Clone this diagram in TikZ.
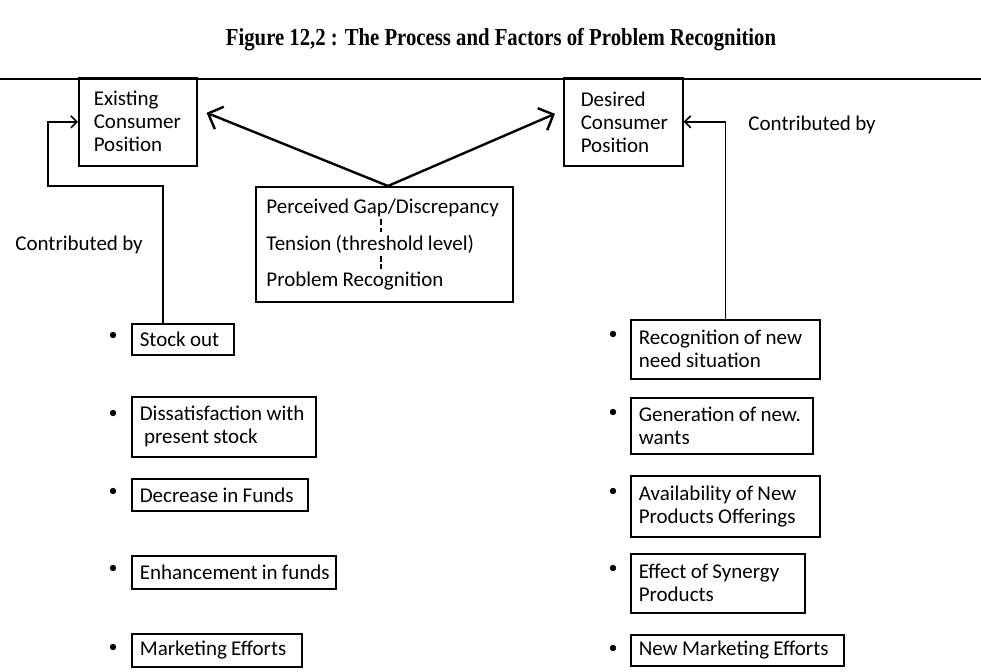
\documentclass[tikz,border=0pt]{standalone}
\usepackage{fontspec}
\setmainfont[WordSpace=0.9]{Carlito}
\newfontfamily\titlefont[FakeStretch=0.85]{Liberation Serif}
\usetikzlibrary{arrows.meta}
\newcommand\tline[1]{\mbox{\spaceskip=0pt\xspaceskip=0pt #1}}
\tikzset{
  box/.style={draw, line width=0.8pt, anchor=north west, align=left, inner xsep=4pt, inner ysep=0pt,
    font=\fontsize{10.5}{11.5}\selectfont},
  txt/.style={anchor=west, inner sep=0pt, font=\fontsize{10.5}{11.5}\selectfont},
  bul/.style={circle, fill=black, inner sep=0pt, minimum size=3.2pt},
  conn/.style={line width=0.8pt, -{Straight Barb[length=3pt,width=6pt,line width=0.8pt]}},
  bigarr/.style={line width=1.2pt, -{Straight Barb[length=6pt,width=12pt,line width=1.2pt]}},
}
\begin{document}
\begin{tikzpicture}[x=0.5pt,y=-0.5pt]
\useasboundingbox (0,0) rectangle (981,672);
% title and rule
\node[font=\titlefont\bfseries\fontsize{12.2}{14}\selectfont] (title) at (501,40) {Figure 12,2 : The Process and Factors of Problem Recognition};
\coordinate (rl) at (0,79);
\coordinate (rr) at (981,79);
\draw[line width=1.3pt] (rl) -- (rr);

% top boxes
\node[box, inner xsep=7.5pt, minimum width=59pt, minimum height=44pt, text width=44pt] (ex) at (78,77) {Existing\\Consumer\\Position};
\node[box, inner xsep=8.5pt, minimum width=59.5pt, minimum height=44pt, text width=42.5pt] (des) at (563,77) {Desired\\Consumer\\Position};

% central box
\node[draw, line width=0.8pt, anchor=north west, minimum width=128.5pt, minimum height=57.5pt, inner sep=0pt] (gap) at (255,186) {};
\node[txt] (p1) at (266,208) {Perceived Gap/Discrepancy};
\node[txt] (p2) at (266,244) {Tension (threshold level)};
\node[txt] (p3) at (266,281) {Problem Recognition};
\coordinate (dl) at (381,0);
\draw[line width=0.6pt, dash pattern=on 3pt off 1.2pt] ([yshift=-1pt]p1.south -| dl) -- ([yshift=1pt]p2.north -| dl);
\draw[line width=0.6pt, dash pattern=on 3pt off 1.2pt] ([yshift=-1pt]p2.south -| dl) -- ([yshift=1pt]p3.north -| dl);

% gap arrows
\coordinate (apex) at (388,186);
\draw[bigarr] (apex) -- ([shift={(9,-9)}]ex.east);
\draw[bigarr] (apex) -- ([shift={(-8,-8)}]des.west);

% contributed by labels
\node[txt] (cbl) at (15,245) {Contributed by};
\node[txt] (cbr) at (748,125) {Contributed by};

% left list
\node[box, minimum width=51pt, minimum height=15.5pt, text width=43pt] (so) at (131,323) {\tline{Stock out}};
\node[box, minimum width=92pt, minimum height=30pt, text width=84pt] (dis) at (131,396) {\tline{Dissatisfaction with}\\\tline{\ present stock}};
\node[box, minimum width=88pt, minimum height=16pt, text width=80pt] (dec) at (131,478) {\tline{Decrease in Funds}};
\node[box, minimum width=102pt, minimum height=16.5pt, text width=94pt] (enh) at (131,555) {\tline{Enhancement in funds}};
\node[box, minimum width=85pt, minimum height=16.5pt, text width=77pt] (mkt) at (131,633) {\tline{Marketing Efforts}};

\node[bul] (b1) at (113,335) {};
\node[bul] (b2) at (113,413) {};
\node[bul] (b3) at (113,491) {};
\node[bul] (b4) at (113,568) {};
\node[bul] (b5) at (113,647) {};

% right list
\node[box, minimum width=94.5pt, minimum height=29.5pt, text width=86.5pt] (rec) at (630,319) {\tline{Recognition of new}\\\tline{need situation}};
\node[box, minimum width=91pt, minimum height=28pt, text width=83pt] (gen) at (630,397) {\tline{Generation of new.}\\\tline{wants}};
\node[box, minimum width=94.5pt, minimum height=30.5pt, text width=86.5pt] (ava) at (630,475) {\tline{Availability of New}\\\tline{Products Offerings}};
\node[box, minimum width=87pt, minimum height=29.5pt, text width=79pt] (eff) at (630,553) {\tline{Effect of Synergy}\\\tline{Products}};
\node[box, minimum width=106.5pt, minimum height=15.5pt, text width=98.5pt] (nme) at (630,634) {\tline{New Marketing Efforts}};

\node[bul] (c1) at (613,334) {};
\node[bul] (c2) at (613,412) {};
\node[bul] (c3) at (613,491) {};
\node[bul] (c4) at (613,568) {};
\node[bul] (c5) at (613,648) {};

% feedback connectors
\coordinate (lc1) at (163,186);
\coordinate (lc2) at (48,186);
\draw[conn] (so.north -| lc1) -- (lc1) -- (lc2) |- (ex.west);
\draw[conn] (rec.north) |- (des.east);
\end{tikzpicture}
\end{document}
